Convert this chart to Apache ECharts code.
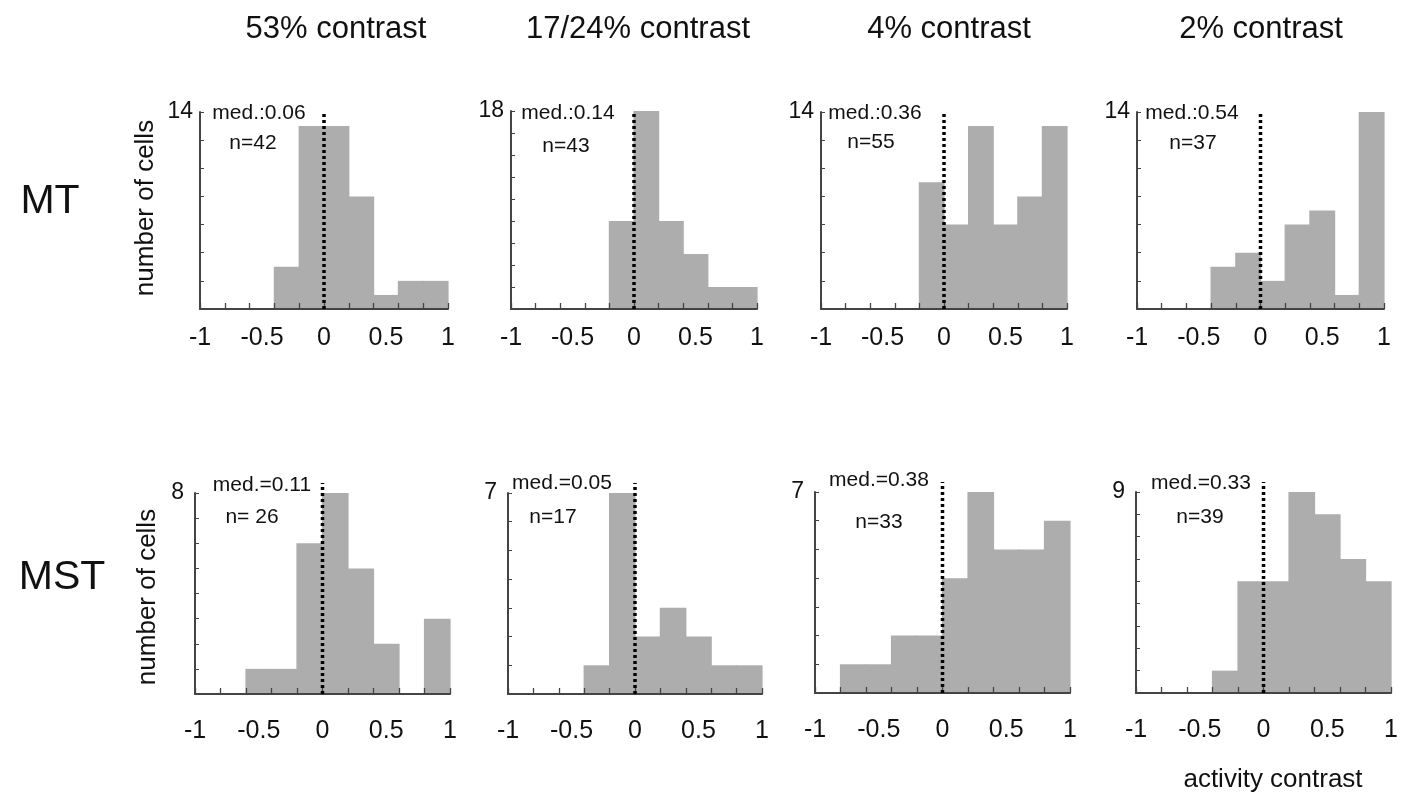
<!DOCTYPE html>
<html>
<head>
<meta charset="utf-8">
<script src="https://cdn.jsdelivr.net/npm/echarts@6/dist/echarts.min.js"></script>
<style>
html,body{margin:0;padding:0;background:#fff;}
#chart{width:1401px;height:793px;}
</style>
</head>
<body>
<div id="chart"></div>
<script>
// ---- data ----
const binCategories = ['-1..-0.8','-0.8..-0.6','-0.6..-0.4','-0.4..-0.2','-0.2..0','0..0.2','0.2..0.4','0.4..0.6','0.6..0.8','0.8..1'];
const xTickLabels = [-1, -0.5, 0, 0.5, 1];
const columnTitles = ['53% contrast', '17/24% contrast', '4% contrast', '2% contrast'];
const rowTitles = ['MT', 'MST'];

const mt53   = [0,0,0,3,13,13,8,1,2,2];
const mt1724 = [0,0,0,0,8,18,8,5,2,2];
const mt4    = [0,0,0,0,9,6,13,6,8,13];
const mt2    = [0,0,0,3,4,2,6,7,1,14];
const mst53   = [0,0,1,1,6,8,5,2,0,3];
const mst1724 = [0,0,0,1,7,2,3,2,1,1];
const mst4    = [0,1,1,2,2,4,7,5,5,6];
const mst2    = [0,0,0,1,5,5,9,8,6,5];

const mtMax  = [14, 18, 14, 14];
const mstMax = [8, 7, 7, 9];
const mtMedText  = ['med.:0.06', 'med.:0.14', 'med.:0.36', 'med.:0.54'];
const mtNText    = ['n=42', 'n=43', 'n=55', 'n=37'];
const mstMedText = ['med.=0.11', 'med.=0.05', 'med.=0.38', 'med.=0.33'];
const mstNText   = ['n= 26', 'n=17', 'n=33', 'n=39'];
const zeroLineX = 0;

// ---- layout ----
const FONT = '"Liberation Sans", Arial, Helvetica, sans-serif';
const panels = [
  {data: mt53,   max: mtMax[0],  step: 2, grid: {left:200, top:112, width:248, height:197}, med: mtMedText[0],  n: mtNText[0],  medPos:[259,113], nPos:[253,143], row:0},
  {data: mt1724, max: mtMax[1],  step: 2, grid: {left:511, top:111, width:246, height:198}, med: mtMedText[1],  n: mtNText[1],  medPos:[568,113], nPos:[566,146], row:0},
  {data: mt4,    max: mtMax[2],  step: 2, grid: {left:821, top:112, width:246, height:197}, med: mtMedText[2],  n: mtNText[2],  medPos:[875,113], nPos:[871,142], row:0},
  {data: mt2,    max: mtMax[3],  step: 2, grid: {left:1137,top:112, width:247, height:197}, med: mtMedText[3],  n: mtNText[3],  medPos:[1192,113],nPos:[1193,143],row:0},
  {data: mst53,  max: mstMax[0], step: 1, grid: {left:195, top:493, width:255, height:201}, med: mstMedText[0], n: mstNText[0], medPos:[262,485], nPos:[252,517], row:1},
  {data: mst1724,max: mstMax[1], step: 1, grid: {left:508, top:493, width:254, height:201}, med: mstMedText[1], n: mstNText[1], medPos:[562,483], nPos:[553,517], row:1},
  {data: mst4,   max: mstMax[2], step: 1, grid: {left:815, top:492, width:255, height:201}, med: mstMedText[2], n: mstNText[2], medPos:[879,480], nPos:[879,522], row:1},
  {data: mst2,   max: mstMax[3], step: 1, grid: {left:1136,top:492, width:256, height:201}, med: mstMedText[3], n: mstNText[3], medPos:[1201,483],nPos:[1200,517],row:1}
];

const axisColor = '#444';
const textColor = '#111';
const barColor = '#adadad';
const grids = [], xAxes = [], yAxes = [], series = [], graphics = [];

function renderBin(params, api) {
  const idx = api.value(0);
  const count = api.value(1);
  if (!count) return null;
  const top = api.coord([idx, count]);
  const base = api.coord([idx, 0]);
  const bw = api.size([1, 0])[0];
  return {
    type: 'rect',
    shape: {x: top[0] - bw / 2 - 0.6, y: top[1], width: bw + 1.2, height: base[1] - top[1]},
    style: {fill: barColor}
  };
}

panels.forEach((p, i) => {
  grids.push(Object.assign({containLabel:false}, p.grid));
  xAxes.push({
    type:'category', gridIndex:i, data: binCategories, position:'bottom',
    boundaryGap:true,
    axisLine:{show:true, onZero:false, lineStyle:{color:axisColor, width:2}},
    axisTick:{show:true, inside:true, length:6, alignWithLabel:false, interval:0, lineStyle:{color:axisColor, width:1.3}},
    axisLabel:{show:false}, splitLine:{show:false}, z:10
  });
  xAxes.push({
    type:'value', gridIndex:i, min:-1, max:1, interval:0.5, position:'bottom',
    axisLine:{show:false, onZero:false}, axisTick:{show:false}, splitLine:{show:false},
    axisLabel:{show:true, showMinLabel:true, showMaxLabel:true, fontSize:25, fontFamily:FONT, color:textColor,
      margin: p.row === 0 ? 17 : 25,
      formatter: v => xTickLabels.includes(+v.toFixed(2)) ? String(+v.toFixed(2)) : ''}
  });
  yAxes.push({
    type:'value', gridIndex:i, min:0, max:p.max, interval:p.step, position:'left',
    axisLine:{show:true, onZero:false, lineStyle:{color:axisColor, width:2}},
    axisTick:{show:true, inside:true, length:4, lineStyle:{color:axisColor, width:1}},
    splitLine:{show:false}, z:10,
    axisLabel:{show:true, fontSize:23, fontFamily:FONT, color:textColor, margin: p.row === 0 ? 7 : 11,
      showMaxLabel:true,
      padding: p.row === 0 ? [0,0,0,0] : [0,0,10,0],
      formatter: v => v === p.max ? String(v) : ''}
  });
  series.push({
    type:'custom', xAxisIndex: 2*i, yAxisIndex: i,
    data: p.data.map((c, k) => [k, c]),
    encode:{x:0, y:1},
    renderItem: renderBin, silent:true, animation:false, z:1
  });
  const ext = p.row === 0 ? 0 : 0.05;
  series.push({
    type:'line', xAxisIndex: 2*i+1, yAxisIndex: i, clip:false,
    data: [[zeroLineX, 0], [zeroLineX, p.max * (1 + ext)]],
    symbol:'none', silent:true, animation:false,
    lineStyle:{color:'#000', width:3.5, type:[3,3]}, z:12
  });
  graphics.push({type:'text', x:p.medPos[0], y:p.medPos[1], z:10, style:{text:p.med, font:'21px ' + FONT, fill:textColor, textAlign:'center', textVerticalAlign:'middle'}});
  graphics.push({type:'text', x:p.nPos[0], y:p.nPos[1], z:10, style:{text:p.n, font:'21px ' + FONT, fill:textColor, textAlign:'center', textVerticalAlign:'middle'}});
});

const titleX = [336, 638, 949, 1261];
columnTitles.forEach((t, i) => {
  graphics.push({type:'text', x:titleX[i], y:29, style:{text:t, font:'31px ' + FONT, fill:textColor, textAlign:'center', textVerticalAlign:'middle'}});
});
graphics.push({type:'text', x:50, y:202, style:{text:rowTitles[0], font:'41px ' + FONT, fill:textColor, textAlign:'center', textVerticalAlign:'middle'}});
graphics.push({type:'text', x:62, y:578, style:{text:rowTitles[1], font:'41px ' + FONT, fill:textColor, textAlign:'center', textVerticalAlign:'middle'}});
graphics.push({type:'text', x:146, y:208, rotation:Math.PI/2, style:{text:'number of cells', font:'26px ' + FONT, fill:textColor, textAlign:'center', textVerticalAlign:'middle'}});
graphics.push({type:'text', x:148, y:597, rotation:Math.PI/2, style:{text:'number of cells', font:'26px ' + FONT, fill:textColor, textAlign:'center', textVerticalAlign:'middle'}});
graphics.push({type:'text', x:1273, y:780, style:{text:'activity contrast', font:'26px ' + FONT, fill:textColor, textAlign:'center', textVerticalAlign:'middle'}});

const chart = echarts.init(document.getElementById('chart'), null, {renderer:'canvas'});
chart.setOption({
  animation:false,
  backgroundColor:'#fff',
  grid: grids, xAxis: xAxes, yAxis: yAxes, series: series,
  graphic: graphics
});
</script>
</body>
</html>
